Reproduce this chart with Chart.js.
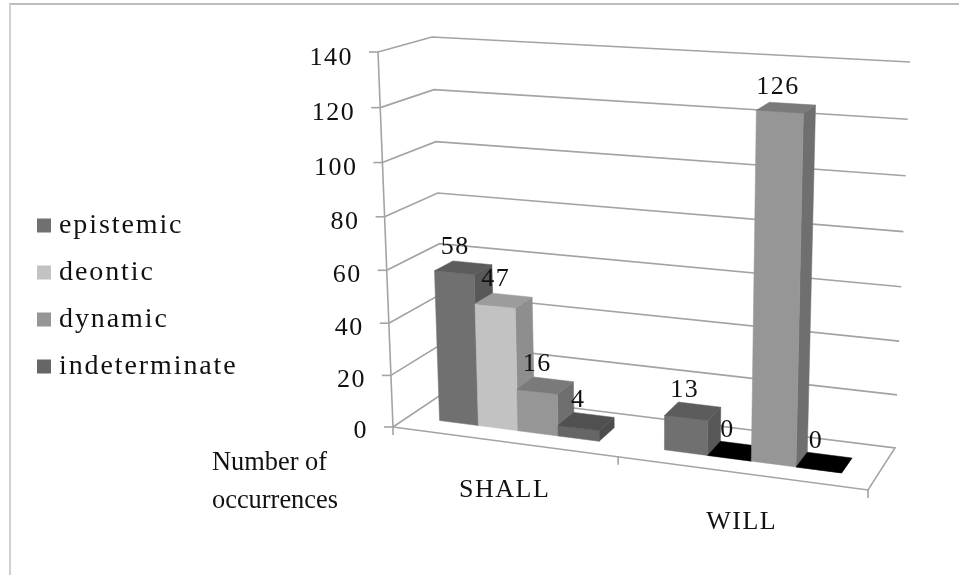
<!DOCTYPE html>
<html>
<head>
<meta charset="utf-8">
<style>
body { margin: 0; background: #fff; }
#wrap { width: 959px; height: 575px; position: relative; }
canvas { filter: blur(0.3px); }
</style>
<script src="https://cdn.jsdelivr.net/npm/chart.js@4"></script>
</head>
<body>
<div id="wrap"><canvas id="barChart" width="959" height="575"></canvas></div>
<script>
const categories = ['SHALL', 'WILL'];
const epistemic = [58, 13];
const deontic = [47, 0];
const dynamic = [16, 126];
const indeterminate = [4, 0];
const yTicks = [0, 20, 40, 60, 80, 100, 120, 140];
const axisNote = ['Number of', 'occurrences'];

const frontColors = ['#707070', '#c2c2c2', '#969696', '#666666'];
const topColors = ['#5c5c5c', '#9c9c9c', '#7a7a7a', '#505050'];
const sideColors = ['#585858', '#8e8e8e', '#6f6f6f', '#4c4c4c'];
const serif = '"Liberation Serif", serif';

// corners of the 3d box on screen: front/back, left/right, floor/top
const box = {
    fl0: [393, 427], fl1: [378, 52], fr0: [868, 490], fr1: [880, 84],
    bl0: [445, 392], bl1: [432, 37], br0: [895, 448], br1: [910, 62]
};
const depthFront = 0.3;
const depthBack = 0.66;
const barShift = 0.003;

function warp(t, k) {
    return t / (t + (1 - t) * k);
}

function mix(a, b, t) {
    return [a[0] + (b[0] - a[0]) * t, a[1] + (b[1] - a[1]) * t];
}

// xn and vn are 0-1 along the chart area, z is 0-1 going into the box
function project(xn, vn, z) {
    var u = warp(xn, 1.11);
    var v = warp(vn, 1.045);
    var front = mix(mix(box.fl0, box.fr0, u), mix(box.fl1, box.fr1, u), v);
    var back = mix(mix(box.bl0, box.br0, u), mix(box.bl1, box.br1, u), v);
    return mix(front, back, z);
}

function path(ctx, pts) {
    ctx.beginPath();
    pts.forEach(function (p, i) {
        if (i == 0) ctx.moveTo(p[0], p[1]);
        else ctx.lineTo(p[0], p[1]);
    });
}

function face(ctx, pts, color) {
    path(ctx, pts);
    ctx.closePath();
    ctx.fillStyle = color;
    ctx.strokeStyle = color;
    ctx.lineWidth = 0.5;
    ctx.fill();
    ctx.stroke();
}

const box3d = {
    id: 'box3d',
    // the legend is measured and drawn with wider spacing than the rest
    beforeLayout: function (chart) {
        chart.ctx.letterSpacing = '1.9px';
    },
    beforeDraw: function (chart) {
        chart.ctx.letterSpacing = '1.9px';
    },
    beforeDatasetsDraw: function (chart) {
        var ctx = chart.ctx;
        var yScale = chart.scales.y;
        var max = yScale.max;
        ctx.letterSpacing = '1.5px';

        // page edge lines
        ctx.save();
        ctx.fillStyle = '#bdbdbd';
        ctx.fillRect(9, 3, 950, 2);
        ctx.fillStyle = '#d0d0d0';
        ctx.fillRect(9, 4, 2, 571);
        ctx.restore();

        // walls
        ctx.save();
        ctx.strokeStyle = '#a3a3a3';
        ctx.lineWidth = 1.6;
        yTicks.forEach(function (val) {
            var vn = val / max;
            path(ctx, [project(0, vn, 0), project(0, vn, 1), project(1, vn, 1)]);
            if (val == 0) {
                ctx.lineTo(project(1, 0, 0)[0], project(1, 0, 0)[1]);
                ctx.lineTo(project(0, 0, 0)[0], project(0, 0, 0)[1]);
            }
            ctx.stroke();
            var p = project(0, vn, 0);
            path(ctx, [[p[0] - 9, p[1]], p]);
            ctx.stroke();
        });
        path(ctx, [project(0, 0, 0), project(0, 1, 0)]);
        ctx.stroke();
        [0, 0.5, 1].forEach(function (xn) {
            var p = project(xn, 0, 0);
            path(ctx, [p, [p[0], p[1] + 8]]);
            ctx.stroke();
        });
        ctx.restore();

        // y labels follow the slanted axis
        ctx.save();
        ctx.font = '26px ' + serif;
        ctx.fillStyle = '#111';
        ctx.textAlign = 'right';
        ctx.textBaseline = 'middle';
        yTicks.forEach(function (val) {
            var p = project(0, val / max, 0);
            ctx.fillText(String(val), p[0] - 25, p[1] + 4 + 2 * val / max);
        });
        ctx.restore();

        // bars, left to right so the nearer ones cover the side faces
        var ca = chart.chartArea;
        var slots = [];
        chart.data.datasets.forEach(function (ds, i) {
            chart.getDatasetMeta(i).data.forEach(function (el, j) {
                slots.push({ el: el, i: i, val: ds.data[j] });
            });
        });
        slots.sort(function (a, b) { return a.el.x - b.el.x; });
        slots.forEach(function (s) {
            var x0 = (s.el.x - s.el.width / 2 - ca.left) / ca.width + barShift;
            var x1 = (s.el.x + s.el.width / 2 - ca.left) / ca.width + barShift;
            var vn = (ca.bottom - s.el.y) / ca.height;
            var f = depthFront;
            var b = depthBack;
            var flat = s.val == 0;
            face(ctx, [project(x1, 0, f), project(x1, 0, b), project(x1, vn, b), project(x1, vn, f)], sideColors[s.i]);
            face(ctx, [project(x0, 0, f), project(x1, 0, f), project(x1, vn, f), project(x0, vn, f)], frontColors[s.i]);
            face(ctx, [project(x0, vn, f), project(x1, vn, f), project(x1, vn, b), project(x0, vn, b)], flat ? '#000' : topColors[s.i]);
        });

        // value labels
        ctx.save();
        ctx.font = '26px ' + serif;
        ctx.fillStyle = '#111';
        ctx.textAlign = 'center';
        ctx.textBaseline = 'middle';
        slots.forEach(function (s) {
            var xm = (s.el.x - ca.left) / ca.width + barShift;
            var vn = (ca.bottom - s.el.y) / ca.height;
            var p = project(xm, vn, (depthFront + depthBack) / 2);
            ctx.fillText(String(s.val), p[0] - 8, p[1] - 21);
        });
        ctx.restore();

        // category labels
        ctx.save();
        ctx.font = '26px ' + serif;
        ctx.fillStyle = '#111';
        ctx.textAlign = 'center';
        ctx.textBaseline = 'middle';
        categories.forEach(function (name, i) {
            var xm = (chart.scales.x.getPixelForValue(i) - ca.left) / ca.width;
            var p = project(xm, 0, 0);
            ctx.fillText(name, p[0] + 2, p[1] + 49);
        });
        ctx.restore();

        // axis note, plain Times without the extra spacing
        ctx.save();
        ctx.letterSpacing = '0px';
        ctx.font = '26.4px ' + serif;
        ctx.fillStyle = '#111';
        ctx.textBaseline = 'middle';
        axisNote.forEach(function (line, i) {
            ctx.fillText(line, 212, 463 + i * 38);
        });
        ctx.restore();

        return false;
    }
};

new Chart(document.getElementById('barChart'), {
    type: 'bar',
    data: {
        labels: categories,
        datasets: [
            { label: 'epistemic', data: epistemic, backgroundColor: frontColors[0], borderColor: frontColors[0], borderWidth: 12 },
            { label: 'deontic', data: deontic, backgroundColor: frontColors[1], borderColor: frontColors[1], borderWidth: 12 },
            { label: 'dynamic', data: dynamic, backgroundColor: frontColors[2], borderColor: frontColors[2], borderWidth: 12 },
            { label: 'indeterminate', data: indeterminate, backgroundColor: frontColors[3], borderColor: frontColors[3], borderWidth: 12 }
        ]
    },
    options: {
        responsive: false,
        animation: false,
        layout: { padding: { top: 27, left: 24, right: 10, bottom: 10 } },
        datasets: { bar: { categoryPercentage: 0.72, barPercentage: 1 } },
        scales: {
            x: { ticks: { display: false }, grid: { display: false }, border: { display: false } },
            y: {
                min: 0,
                max: 140,
                afterBuildTicks: function (scale) {
                    scale.ticks = yTicks.map(function (v) { return { value: v }; });
                },
                ticks: { display: false },
                grid: { display: false },
                border: { display: false }
            }
        },
        plugins: {
            tooltip: { enabled: false },
            legend: {
                position: 'left',
                labels: {
                    boxWidth: 2,
                    boxHeight: 2,
                    padding: 19,
                    color: '#111',
                    font: { family: serif, size: 28 }
                }
            }
        }
    },
    plugins: [box3d]
});
</script>
</body>
</html>
